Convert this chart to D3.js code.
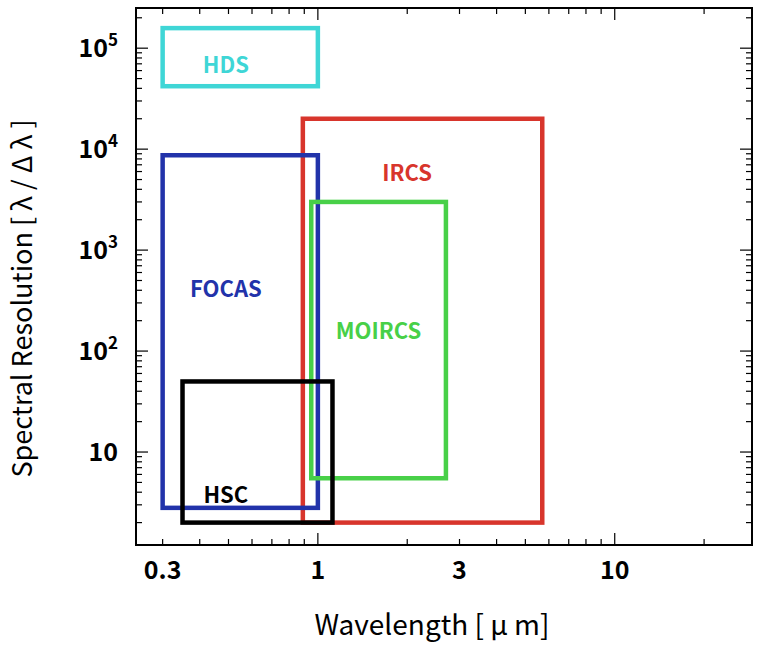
<!DOCTYPE html>
<html><head><meta charset="utf-8">
<script src="https://cdn.jsdelivr.net/npm/d3@7"></script>
<style>body{margin:0;background:#fff}text{font-family:"Noto Sans CJK JP","Noto Sans",sans-serif}</style>
</head><body><svg id="c" width="770" height="645"></svg>
<script>
const instruments=["HDS","IRCS","FOCAS","MOIRCS","HSC"];
const lamMin=[0.3,0.89,0.3,0.95,0.35];
const lamMax=[1.0,5.7,1.0,2.7,1.12];
const resMin=[42000,2.0,2.8,5.5,2.0];
const resMax=[158000,20000,8700,3000,50];
const colors=["#3fd6d6","#d8352c","#2233aa","#48d048","#000000"];
const labelX=[0.49,2.0,0.49,1.6,0.49];
const labelY=[65000,5600,390,150,3.6];
const xTicks=[0.3,1,3,10];
const xTickLabels=["0.3","1","3","10"];
const yTicks=[10,100,1000,10000,100000];
const yTickExp=[null,"2","3","4","5"];

const svg=d3.select("#c");
const L=136,R=752,T=8,B=545;
const x=d3.scaleLog().domain([0.244,29]).range([L,R]);
const y=d3.scaleLog().domain([1.2,2.5e5]).range([B,T]);

const xm=[];for(let d=0.1;d<=10;d*=10)for(let k=1;k<10;k++){const v=d*k;if(v>=0.244&&v<=29)xm.push(v);}
const ym=[];for(let d=1;d<=1e5;d*=10)for(let k=1;k<10;k++){const v=d*k;if(v>=1.2&&v<=2.5e5)ym.push(v);}
const g=svg.append("g").attr("stroke","#000").attr("stroke-width",1.2);
xm.forEach(v=>{const maj=Math.abs(Math.log10(v)-Math.round(Math.log10(v)))<1e-9;const len=maj?12:6;
 g.append("line").attr("x1",x(v)).attr("x2",x(v)).attr("y1",B).attr("y2",B-len);
 g.append("line").attr("x1",x(v)).attr("x2",x(v)).attr("y1",T).attr("y2",T+len);});
ym.forEach(v=>{const maj=Math.abs(Math.log10(v)-Math.round(Math.log10(v)))<1e-9;const len=maj?12:6;
 g.append("line").attr("y1",y(v)).attr("y2",y(v)).attr("x1",L).attr("x2",L+len);
 g.append("line").attr("y1",y(v)).attr("y2",y(v)).attr("x1",R).attr("x2",R-len);});
svg.append("rect").attr("x",L).attr("y",T).attr("width",R-L).attr("height",B-T).attr("fill","none").attr("stroke","#000").attr("stroke-width",2);

instruments.forEach((n,i)=>{
 svg.append("rect").attr("x",x(lamMin[i])).attr("y",y(resMax[i])).attr("width",x(lamMax[i])-x(lamMin[i])).attr("height",y(resMin[i])-y(resMax[i]))
  .attr("fill","none").attr("stroke",colors[i]).attr("stroke-width",4.5);
 svg.append("text").attr("x",x(labelX[i])).attr("y",y(labelY[i])).attr("text-anchor","middle").attr("dominant-baseline","middle")
  .attr("fill",colors[i]).attr("font-size",22).attr("font-weight","bold").text(n);
});

xTicks.forEach((v,i)=>svg.append("text").attr("x",x(v)).attr("y",B+34).attr("text-anchor","middle").attr("font-size",25).attr("font-weight","bold").text(xTickLabels[i]));
yTicks.forEach((v,i)=>{const t=svg.append("text").attr("x",118).attr("y",y(v)+9).attr("text-anchor","end").attr("font-size",25).attr("font-weight","bold");
 t.append("tspan").text("10");
 if(yTickExp[i])t.append("tspan").attr("dy",-11).attr("font-size",17).text(yTickExp[i]);});

svg.append("text").attr("x",(L+R)/2-12).attr("y",635).attr("text-anchor","middle").attr("font-size",28).text("Wavelength [ μ m]");
svg.append("text").attr("transform","translate(32,"+((T+B)/2+22)+") rotate(-90)").attr("text-anchor","middle").attr("font-size",27).text("Spectral Resolution [  λ  /  Δ  λ  ]");
</script></body></html>
